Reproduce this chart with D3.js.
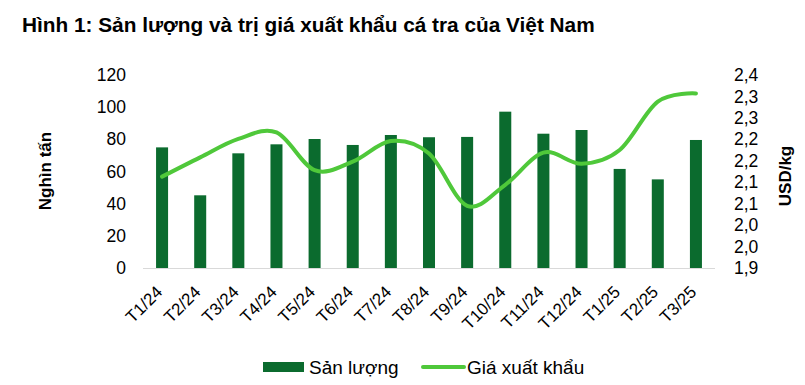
<!DOCTYPE html>
<html>
<head>
<meta charset="utf-8">
<script src="https://cdn.jsdelivr.net/npm/d3@7"></script>
<style>
  body { margin: 0; background: #fff; }
  text { font-family: "Liberation Sans", Arial, sans-serif; fill: #000; }
  .title { font-weight: bold; font-size: 20.8px; }
  .axis-title { font-weight: bold; font-size: 17px; }
  .tick-label { font-size: 17.5px; }
  .x-label { font-size: 17px; }
  .legend-label { font-size: 19px; }
</style>
</head>
<body>
<svg width="805" height="385"></svg>
<script>
var months = ["T1/24", "T2/24", "T3/24", "T4/24", "T5/24", "T6/24", "T7/24", "T8/24",
              "T9/24", "T10/24", "T11/24", "T12/24", "T1/25", "T2/25", "T3/25"];
var volume = [75.0, 45.2, 71.3, 76.9, 80.2, 76.5, 82.7, 81.3, 81.5, 97.2, 83.5, 85.8, 61.6, 55.1, 79.6];
var price = [2.163, 2.208, 2.251, 2.266, 2.178, 2.198, 2.246, 2.217, 2.095, 2.144, 2.219, 2.193, 2.225, 2.338, 2.357];

var leftTicks = [0, 20, 40, 60, 80, 100, 120];
var rightTicks = [1.95, 2.00, 2.05, 2.10, 2.15, 2.20, 2.25, 2.30, 2.35, 2.40];
var rightTickLabels = ["1,9", "2,0", "2,0", "2,1", "2,1", "2,2", "2,2", "2,3", "2,3", "2,4"];

var svg = d3.select("svg");

var plotLeft = 143, plotRight = 715;
var plotTop = 75, plotBottom = 268;

var x = d3.scaleBand().domain(months).range([plotLeft, plotRight]).paddingInner(0.685).paddingOuter(0.3425);
var yLeft = d3.scaleLinear().domain([0, 120]).range([plotBottom, plotTop]);
var yRight = d3.scaleLinear().domain([1.95, 2.40]).range([plotBottom, plotTop]);

// title
svg.append("text")
.attr("class", "title")
.attr("x", 22)
.attr("y", 32)
.text("Hình 1: Sản lượng và trị giá xuất khẩu cá tra của Việt Nam");

// bars
svg.selectAll("rect.bar")
.data(volume)
.enter().append("rect")
.attr("class", "bar")
.attr("x", function (d, i) { return x(months[i]); })
.attr("y", function (d) { return yLeft(d); })
.attr("width", x.bandwidth())
.attr("height", function (d) { return yLeft(0) - yLeft(d); })
.style("fill", "#0b6b2e");

// bottom axis line
svg.append("line")
.attr("x1", plotLeft)
.attr("x2", plotRight)
.attr("y1", plotBottom + 0.5)
.attr("y2", plotBottom + 0.5)
.style("stroke", "#d9d9d9")
.style("stroke-width", 1);

// left axis
var left = d3.axisLeft(yLeft).tickValues(leftTicks).tickSize(0).tickPadding(0);
var gLeft = svg.append("g")
.attr("transform", "translate(126, 0)")
.call(left);
gLeft.select(".domain").remove();
gLeft.selectAll("text").attr("class", "tick-label").attr("font-family", null).attr("font-size", null);

// right axis
var right = d3.axisRight(yRight).tickValues(rightTicks).tickSize(0).tickPadding(0)
.tickFormat(function (d, i) { return rightTickLabels[i]; });
var gRight = svg.append("g")
.attr("transform", "translate(734, 0)")
.call(right);
gRight.select(".domain").remove();
gRight.selectAll("text").attr("class", "tick-label").attr("font-family", null).attr("font-size", null);

// x labels
var bottom = d3.axisBottom(x).tickSize(0).tickPadding(0);
var gBottom = svg.append("g")
.attr("transform", "translate(0, " + plotBottom + ")")
.call(bottom);
gBottom.select(".domain").remove();
gBottom.selectAll("text")
.attr("class", "x-label")
.attr("font-family", null).attr("font-size", null)
.attr("text-anchor", "end")
.attr("dy", null)
.attr("y", 0)
.attr("transform", "translate(1.5, 25) rotate(-45)");

// price line
var line = d3.line()
.x(function (d, i) { return x(months[i]) + x.bandwidth() / 2; })
.y(function (d) { return yRight(d); })
.curve(d3.curveCatmullRom.alpha(0));

svg.append("path")
.datum(price)
.attr("d", line)
.style("fill", "none")
.style("stroke", "#4fc83a")
.style("stroke-width", 4)
.style("stroke-linecap", "round");

// axis titles
svg.append("text")
.attr("class", "axis-title")
.attr("text-anchor", "middle")
.attr("transform", "translate(51, 171) rotate(-90)")
.text("Nghìn tấn");

svg.append("text")
.attr("class", "axis-title")
.attr("text-anchor", "middle")
.attr("transform", "translate(791, 176) rotate(-90)")
.text("USD/kg");

// legend
svg.append("rect")
.attr("x", 263).attr("y", 362)
.attr("width", 41).attr("height", 10)
.style("fill", "#0b6b2e");
svg.append("text")
.attr("class", "legend-label")
.attr("x", 309).attr("y", 374)
.text("Sản lượng");

svg.append("line")
.attr("x1", 423).attr("x2", 464)
.attr("y1", 367).attr("y2", 367)
.style("stroke", "#4fc83a")
.style("stroke-width", 4)
.style("stroke-linecap", "round");
svg.append("text")
.attr("class", "legend-label")
.attr("x", 467).attr("y", 374)
.text("Giá xuất khẩu");
</script>
</body>
</html>
